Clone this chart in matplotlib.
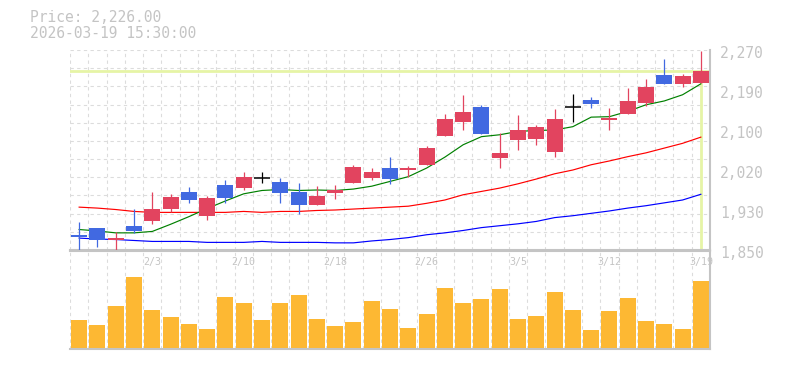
import numpy as np
import matplotlib.pyplot as plt
from matplotlib import transforms

# daily candles, 2026-01-28 .. 2026-03-19
dates = ["1/28", "1/29", "1/30", "2/2", "2/3", "2/4", "2/5", "2/6", "2/9", "2/10",
         "2/12", "2/13", "2/16", "2/17", "2/18", "2/19", "2/20", "2/24", "2/25", "2/26",
         "2/27", "3/2", "3/3", "3/4", "3/5", "3/6", "3/9", "3/10", "3/11", "3/12",
         "3/13", "3/16", "3/17", "3/18", "3/19"]
opens = [1882, 1896, 1871, 1900, 1910, 1937, 1972, 1922, 1986, 1981,
         2002, 1993, 1972, 1945, 1970, 1991, 2002, 2022, 2017, 2029,
         2090, 2119, 2150, 2044, 2080, 2084, 2056, 2150, 2165, 2123,
         2136, 2159, 2218, 2199, 2201]
highs = [1909, 1897, 1887, 1937, 1971, 1968, 1982, 1964, 1996, 2014,
         2014, 2002, 1990, 1985, 1986, 2028, 2022, 2045, 2026, 2069,
         2136, 2175, 2154, 2095, 2133, 2112, 2146, 2178, 2171, 2148,
         2190, 2209, 2251, 2220, 2268]
lows = [1849, 1857, 1849, 1885, 1905, 1930, 1949, 1913, 1949, 1976,
        1991, 1948, 1925, 1945, 1958, 1991, 1996, 1989, 2003, 2029,
        2090, 2101, 2094, 2023, 2061, 2071, 2045, 2119, 2148, 2102,
        2136, 2153, 2199, 2193, 2201]
closes = [1877, 1872, 1875, 1890, 1936, 1961, 1954, 1959, 1960, 2003,
          2002, 1970, 1945, 1964, 1977, 2024, 2014, 2000, 2022, 2065,
          2125, 2140, 2094, 2054, 2102, 2108, 2125, 2150, 2157, 2128,
          2162, 2193, 2199, 2215, 2226]
ma_short = [1893, 1890, 1886, 1886, 1889, 1904, 1920, 1937, 1953, 1968,
            1975, 1977, 1975, 1976, 1975, 1978, 1984, 1994, 2004, 2022,
            2045, 2071, 2088, 2092, 2099, 2101, 2102, 2109, 2129, 2130,
            2141, 2155, 2163, 2176, 2199]
ma_mid = [1940, 1938, 1935, 1931, 1929, 1929, 1929, 1929, 1929, 1931,
          1929, 1931, 1931, 1933, 1934, 1936, 1938, 1940, 1942, 1948,
          1955, 1966, 1973, 1980, 1989, 1999, 2010, 2018, 2029, 2037,
          2046, 2054, 2064, 2074, 2087]
ma_long = [1875, 1873, 1872, 1870, 1868, 1868, 1868, 1866, 1866, 1866,
           1868, 1866, 1866, 1866, 1865, 1865, 1869, 1872, 1876, 1882,
           1886, 1891, 1897, 1901, 1905, 1910, 1918, 1922, 1927, 1932,
           1938, 1943, 1949, 1955, 1967]
volume = [290, 240, 430, 710, 390, 320, 250, 200, 510, 460,
          290, 460, 530, 300, 230, 270, 480, 400, 210, 350,
          600, 460, 490, 590, 300, 330, 560, 390, 190, 380,
          500, 280, 250, 200, 670]
last_price = 2226.00
price_labels = ["1,850", "1,930", "2,020", "2,100", "2,190", "2,270"]

grey = "#c4c4c4"
grid_c = "#dcdcdc"
up_c = "#e2445f"
down_c = "#4169e1"

fig = plt.figure(figsize=(7.85, 3.7), dpi=100)
ax = fig.add_axes([70 / 785, 120 / 370, 640 / 785, 200 / 370])
axv = fig.add_axes([70 / 785, 21 / 370, 640 / 785, 98 / 370])

x = np.arange(len(dates))
o = np.array(opens)
c = np.array(closes)
colors = np.where(c > o, up_c, np.where(c < o, down_c, "black"))
w = 0.87

# grid
ymin, ymax = 1850, 2270
bounds = np.arange(len(dates) + 1) - 0.5
for a in (ax, axv):
    a.set_xlim(-0.5, len(dates) - 0.5)
    a.set_xticks(bounds)
    a.tick_params(length=0, labelbottom=False, labelleft=False)
    a.grid(axis="x", color=grid_c, linestyle=(0, (3, 3)), linewidth=0.8)
    a.set_axisbelow(True)
    for s in a.spines.values():
        s.set_color(grey)
        s.set_linewidth(1.5)
    a.spines["left"].set_visible(False)

ax.set_ylim(ymin, ymax)
ax.set_yticks(np.linspace(ymin, ymax, 12))
ax.grid(axis="y", color=grid_c, linestyle=(0, (3, 3)), linewidth=0.8)
ax.spines["top"].set_visible(False)

# last price marker
ax.axhline(last_price, color="#e6f4a6", linewidth=2, zorder=1)
ax.vlines(x[-1], ymin, last_price, color="#e6f4a6", linewidth=2, zorder=1)

# moving averages
ax.plot(x, ma_long, color="blue", linewidth=0.85, zorder=2)
ax.plot(x, ma_mid, color="red", linewidth=0.85, zorder=2)
ax.plot(x, ma_short, color="green", linewidth=0.85, zorder=2)

# candles
ax.vlines(x, lows, highs, color=colors, linewidth=0.9, zorder=3)
body = np.maximum(np.abs(c - o), 0.001)
ax.bar(x, body, bottom=np.minimum(o, c), width=w, color=colors, zorder=4)
doji = c == o
ax.hlines(c[doji], x[doji] - w / 2, x[doji] + w / 2, color="black", linewidth=1.1, zorder=4)

# price labels on the right
off = transforms.ScaledTranslation(0.10, -0.03, fig.dpi_scale_trans)
for v, s in zip(np.linspace(ymin, ymax, len(price_labels)), price_labels):
    ax.text(1.0, v, s, transform=ax.get_yaxis_transform() + off, ha="left", va="center",
            color=grey, fontsize=10.5, family="DejaVu Sans Mono")

# volume
axv.bar(x, volume, width=w, color="#fdb833", zorder=2)
axv.set_ylim(0, max(volume) * 97 / 71)
axv.set_yticks([])
for i, d in enumerate(dates):
    if i % 5 == 4:
        axv.text(i, 1 - 11 / 98, d, transform=axv.get_xaxis_transform(), ha="center",
                 va="center", color=grey, fontsize=7.2, family="DejaVu Sans Mono")

fig.text(30 / 785, 1 - 18 / 370, "Price: {:,.2f}".format(last_price), color=grey,
         fontsize=10.5, family="DejaVu Sans Mono", va="center")
fig.text(30 / 785, 1 - 33 / 370, "2026-03-19 15:30:00", color=grey,
         fontsize=10.5, family="DejaVu Sans Mono", va="center")

fig.savefig("out.png", dpi=100)
